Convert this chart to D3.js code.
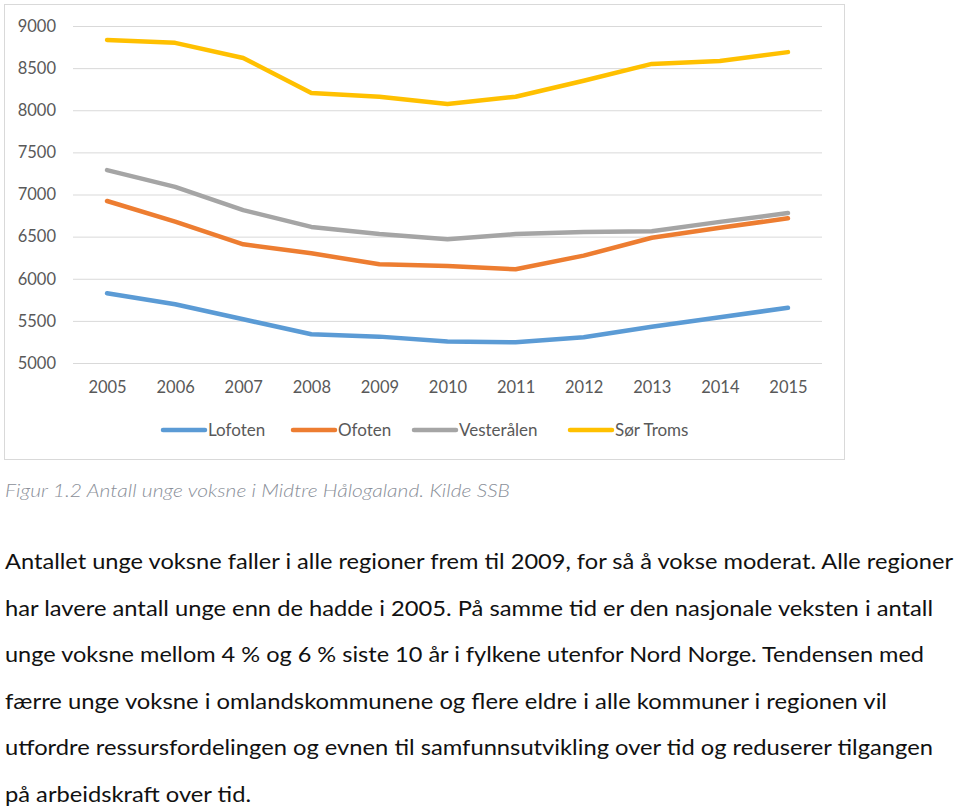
<!DOCTYPE html>
<html>
<head>
<meta charset="utf-8">
<script src="https://cdn.jsdelivr.net/npm/d3@7"></script>
<style>
html,body{margin:0;padding:0;background:#fff;}
svg{display:block;}
</style>
</head>
<body>
<svg id="c" width="959" height="809"></svg>
<script>
const years = ["2005","2006","2007","2008","2009","2010","2011","2012","2013","2014","2015"];
const lofoten    = [5827,5697,5519,5341,5313,5254,5246,5305,5431,5542,5656];
const ofoten     = [6923,6677,6409,6302,6172,6151,6112,6274,6487,6606,6717];
const vesteralen = [7290,7090,6815,6615,6530,6470,6530,6555,6565,6675,6780];
const sorTroms   = [8834,8800,8620,8205,8160,8075,8160,8350,8550,8585,8690];
const seriesNames = ["Lofoten","Ofoten","Vesterålen","Sør Troms"];
const yTicks = [5000,5500,6000,6500,7000,7500,8000,8500,9000];
const caption = "Figur 1.2 Antall unge voksne i Midtre Hålogaland. Kilde SSB";
const paragraph = [
  "Antallet unge voksne faller i alle regioner frem til 2009, for så å vokse moderat. Alle regioner",
  "har lavere antall unge enn de hadde i 2005. På samme tid er den nasjonale veksten i antall",
  "unge voksne mellom 4 % og 6 % siste 10 år i fylkene utenfor Nord Norge. Tendensen med",
  "færre unge voksne i omlandskommunene og flere eldre i alle kommuner i regionen vil",
  "utfordre ressursfordelingen og evnen til samfunnsutvikling over tid og reduserer tilgangen",
  "på arbeidskraft over tid."
];
const lineWidths = [948,928,919,882,928,246];

const colors = ["#5b9bd5","#ed7d31","#a5a5a5","#ffc000"];
const seriesData = [lofoten, ofoten, vesteralen, sorTroms];
const font = "Lato, 'Open Sans', sans-serif";

const svg = d3.select("#c");

svg.append("rect").attr("x",4.5).attr("y",4.5).attr("width",840).attr("height",455)
  .attr("fill","#fff").attr("stroke","#d9d9d9").attr("stroke-width",1);

const x = d3.scalePoint().domain(years).range([73,822]).padding(0.5);
const y = d3.scaleLinear().domain([5000,9000]).range([363,26]);

const yAxis = d3.axisLeft(y).tickValues(yTicks).tickSize(-(822-73)).tickFormat(d3.format("d"));
const gy = svg.append("g").attr("transform","translate(73,0)").call(yAxis);
gy.select(".domain").remove();
gy.selectAll(".tick line").attr("stroke","#d9d9d9").attr("stroke-width",1);
gy.selectAll(".tick text").attr("x",-17).attr("fill","#595959")
  .style("font-family",font).style("font-size","16.5px");

const xAxis = d3.axisBottom(x).tickSize(0);
const gx = svg.append("g").attr("transform","translate(0,363)").call(xAxis);
gx.select(".domain").remove();
gx.selectAll(".tick text").attr("dy",0).attr("y",30).attr("fill","#595959")
  .style("font-family",font).style("font-size","16.5px");

const line = d3.line().x((d,i)=>x(years[i])).y(d=>y(d));
seriesData.forEach((s,k)=>{
  svg.append("path").datum(s).attr("d",line).attr("fill","none")
    .attr("stroke",colors[k]).attr("stroke-width",4.5)
    .attr("stroke-linecap","round").attr("stroke-linejoin","round");
});

const legendX = [163,293,414,570];
seriesNames.forEach((n,k)=>{
  const g = svg.append("g").attr("transform",`translate(${legendX[k]},430)`);
  g.append("line").attr("x1",0).attr("x2",42).attr("y1",0).attr("y2",0)
    .attr("stroke",colors[k]).attr("stroke-width",4.5).attr("stroke-linecap","round");
  g.append("text").attr("x",45).attr("y",6).text(n).attr("fill","#595959")
    .style("font-family",font).style("font-size","17px");
});

svg.append("text").attr("x",5).attr("y",497).text(caption)
  .attr("fill","#8a8f99").style("font-family",font).style("font-style","italic")
  .style("font-weight","300").style("font-size","18px")
  .attr("textLength",505).attr("lengthAdjust","spacingAndGlyphs");

const baselines = [569,616,662,709,755,802];
paragraph.forEach((t,i)=>{
  svg.append("text").attr("x",5).attr("y",baselines[i]).text(t)
    .attr("fill","#111").style("font-family",font).style("font-size","22px")
    .attr("textLength",lineWidths[i]).attr("lengthAdjust","spacingAndGlyphs");
});
</script>
</body>
</html>
